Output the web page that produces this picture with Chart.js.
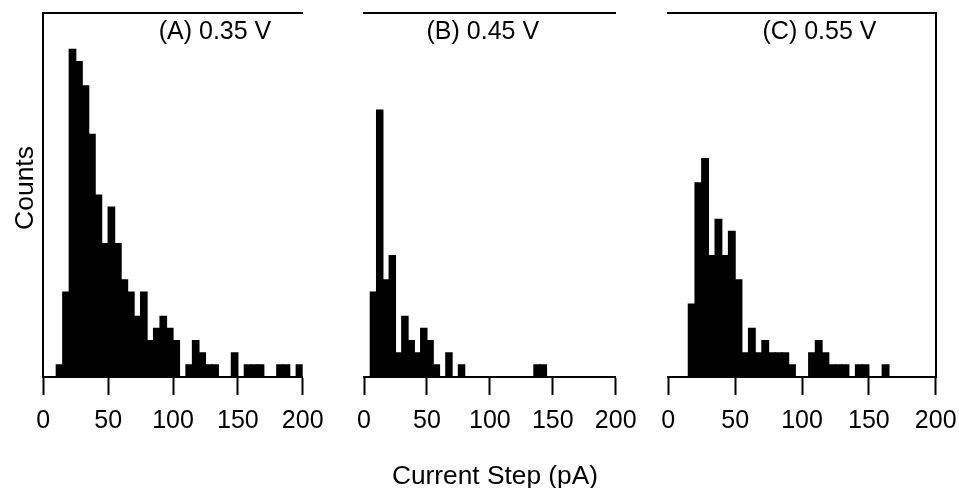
<!DOCTYPE html>
<html><head><meta charset="utf-8">
<script src="https://cdn.jsdelivr.net/npm/chart.js@4.4.0/dist/chart.umd.min.js"></script>
<style>
html,body{margin:0;padding:0;background:#fff;width:959px;height:488px;overflow:hidden}
canvas{position:absolute;top:0}
</style></head><body>
<canvas id="cA" width="330" height="488" style="left:0px"></canvas>
<canvas id="cB" width="310" height="488" style="left:330px"></canvas>
<canvas id="cC" width="319" height="488" style="left:640px"></canvas>
<script>
// Histogram bins: 5 pA wide, left edges 0..195 pA
const binStarts = [0,5,10,15,20,25,30,35,40,45,50,55,60,65,70,75,80,85,90,95,
                   100,105,110,115,120,125,130,135,140,145,150,155,160,165,170,175,180,185,190,195];
const BIN_WIDTH = 5;
const countsA = [0,0,1,7,27,26,24,20,15,11,14,11,8,7,5,7,3,4,5,4,
                 3,0,1,3,2,1,1,0,0,2,0,1,1,1,0,0,1,1,0,1];
const countsB = [0,7,22,8,10,2,5,3,2,4,3,1,0,2,0,1,0,0,0,0,
                 0,0,0,0,0,0,0,1,1,0,0,0,0,0,0,0,0,0,0,0];
const countsC = [0,0,0,6,16,18,10,13,10,12,8,2,4,2,3,2,2,2,1,0,
                 0,2,3,2,1,1,1,0,1,1,0,0,1,0,0,0,0,0,0,0];
const xTicks = [0,50,100,150,200];
const panelLabels = ['(A) 0.35 V','(B) 0.45 V','(C) 0.55 V'];
const xTitle = 'Current Step (pA)';
const yTitle = 'Counts';

const FONT = '"Liberation Sans", Arial, Helvetica, sans-serif';

const textPlugin = {
  id: 'freeText',
  afterDraw(chart, args, opts) {
    const ctx = chart.ctx;
    (opts.items || []).forEach(it => {
      ctx.save();
      ctx.fillStyle = '#000';
      ctx.font = it.size + 'px ' + FONT;
      ctx.textAlign = 'center';
      ctx.textBaseline = 'alphabetic';
      ctx.translate(it.x, it.y);
      if (it.rot) ctx.rotate(it.rot);
      ctx.fillText(it.text, 0, 0);
      ctx.restore();
    });
  }
};

function makeChart(id, counts, opt) {
  const centers = binStarts.map(s => s + BIN_WIDTH / 2);
  return new Chart(document.getElementById(id), {
    type: 'bar',
    data: {
      datasets: [{
        data: counts.map((c, i) => ({x: centers[i], y: c})),
        backgroundColor: '#000',
        borderWidth: 0,
        inflateAmount: 0.6,
        barPercentage: 1,
        categoryPercentage: 1
      }]
    },
    options: {
      responsive: false,
      animation: false,
      devicePixelRatio: 1,
      layout: {padding: {top: 13, bottom: 0, left: opt.padLeft, right: opt.padRight}},
      plugins: {legend: {display: false}, tooltip: {enabled: false}, title: {display: false},
                freeText: {items: opt.texts}},
      scales: {
        x: {
          type: 'linear', position: 'bottom', min: 0, max: 200, offset: false,
          afterBuildTicks: s => { s.ticks = xTicks.map(v => ({value: v})); },
          afterFit: s => { s.height = 111; s.paddingLeft = 0; s.paddingRight = 0; },
          ticks: {color: '#000', padding: 11, font: {family: FONT, size: 25}, maxRotation: 0, autoSkip: false},
          grid: {display: true, drawOnChartArea: false, drawTicks: true, tickLength: 18, tickWidth: 2,
                 tickColor: '#000', offset: false},
          border: {display: true, width: 2, color: '#000'}
        },
        x2: {
          type: 'linear', position: 'top', min: 0, max: 200, display: true,
          afterFit: s => { s.height = 0; s.paddingLeft = 0; s.paddingRight = 0; },
          ticks: {display: false},
          grid: {display: false, drawTicks: false},
          border: {display: true, width: 2, color: '#000'}
        },
        y: {
          type: 'linear', min: 0, max: 30, position: opt.yPos, display: opt.yShow,
          afterFit: s => { s.width = opt.yWidth; s.paddingTop = 0; s.paddingBottom = 0; },
          ticks: {display: false},
          grid: {display: false, drawTicks: false},
          border: {display: true, width: 2, color: '#000'}
        }
      }
    },
    plugins: [textPlugin]
  });
}

makeChart('cA', countsA, {padLeft: 0, padRight: 27.3, yPos: 'left', yShow: true, yWidth: 43.3,
  texts: [{text: panelLabels[0], x: 215, y: 39, size: 25},
          {text: yTitle, x: 33, y: 188, rot: -Math.PI / 2, size: 26.5}]});
makeChart('cB', countsB, {padLeft: 34, padRight: 24.3, yPos: 'left', yShow: false, yWidth: 0,
  texts: [{text: panelLabels[1], x: 152.8, y: 39, size: 25},
          {text: xTitle, x: 165, y: 484, size: 26.3}]});
makeChart('cC', countsC, {padLeft: 28.3, padRight: 0, yPos: 'right', yShow: true, yWidth: 23.3,
  texts: [{text: panelLabels[2], x: 179.5, y: 39, size: 25}]});
</script>
</body></html>
